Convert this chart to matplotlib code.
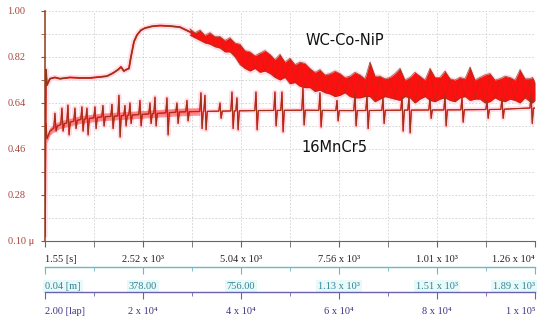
import numpy as np
import matplotlib
matplotlib.use("Agg")
import matplotlib.pyplot as plt

# tempo [s] e coeficiente de atrito - WC-Co-NiP (trecho suave)
wc_t = [0, 26, 51, 129, 257, 386, 643, 900, 1157, 1414, 1594, 1749, 1877, 1954,
        2031, 2109, 2160, 2211, 2289, 2366, 2469, 2571, 2751, 2957, 3214, 3471, 3729]
wc_mu = [0.12, 0.77, 0.71, 0.735, 0.74, 0.735, 0.74, 0.738, 0.738, 0.742, 0.745, 0.757,
         0.77, 0.781, 0.765, 0.772, 0.775, 0.82, 0.88, 0.906, 0.925, 0.933, 0.94, 0.943,
         0.941, 0.937, 0.918]

# WC-Co-NiP (trecho ruidoso): envelope superior e inferior
wcn_t = [3729, 3986, 4243, 4500, 4757, 5014, 5271, 5529, 5786, 6043, 6300, 6557, 6814,
         7071, 7329, 7586, 7843, 8100, 8357, 8614, 8871, 9129, 9386, 9643, 9900, 10157,
         10414, 10671, 10929, 11186, 11443, 11700, 11957, 12214, 12471, 12600]
wcn_hi = [0.93, 0.925, 0.915, 0.90, 0.895, 0.87, 0.84, 0.835, 0.83, 0.83, 0.815, 0.80,
          0.775, 0.77, 0.755, 0.755, 0.745, 0.75, 0.80, 0.745, 0.74, 0.775, 0.74, 0.745,
          0.775, 0.74, 0.735, 0.74, 0.78, 0.74, 0.755, 0.735, 0.74, 0.77, 0.735, 0.72]
wcn_lo = [0.905, 0.885, 0.87, 0.855, 0.84, 0.79, 0.765, 0.76, 0.755, 0.73, 0.715, 0.705,
          0.70, 0.69, 0.675, 0.67, 0.665, 0.66, 0.665, 0.655, 0.66, 0.65, 0.66, 0.655,
          0.65, 0.655, 0.65, 0.66, 0.65, 0.655, 0.645, 0.65, 0.655, 0.64, 0.645, 0.65]
# pontos intermediários do mesmo envelope
wcm_t = [3857, 4114, 4371, 4629, 4886, 5143, 5400, 5657, 5914, 6171, 6429, 6686, 6943,
         7200, 7457, 7714, 7971, 8229, 8486, 8743, 9000, 9257, 9514, 9771, 10029, 10286,
         10543, 10800, 11057, 11314, 11571, 11829, 12086, 12343, 12536]
wcm_hi = [0.915, 0.905, 0.90, 0.885, 0.875, 0.845, 0.825, 0.845, 0.81, 0.80, 0.79, 0.795,
          0.76, 0.75, 0.765, 0.74, 0.76, 0.735, 0.745, 0.735, 0.755, 0.73, 0.76, 0.73,
          0.74, 0.765, 0.73, 0.735, 0.73, 0.75, 0.73, 0.745, 0.73, 0.735, 0.74]
wcm_lo = [0.895, 0.875, 0.86, 0.84, 0.82, 0.775, 0.775, 0.765, 0.74, 0.74, 0.72, 0.70,
          0.685, 0.68, 0.665, 0.68, 0.66, 0.665, 0.645, 0.665, 0.655, 0.665, 0.64, 0.665,
          0.645, 0.66, 0.645, 0.665, 0.655, 0.64, 0.66, 0.645, 0.65, 0.66, 0.64]

# 16MnCr5: linha de base
mn_t = [26, 51, 129, 257, 386, 643, 900, 1157, 1414, 1929, 2443, 2957, 3471, 3986,
        5271, 6557, 7843, 9129, 10414, 11700, 12400, 12600]
mn_mu = [0.56, 0.50, 0.53, 0.545, 0.555, 0.565, 0.575, 0.58, 0.585, 0.59, 0.595, 0.60,
         0.605, 0.607, 0.61, 0.612, 0.61, 0.612, 0.613, 0.615, 0.62, 0.62]

# 16MnCr5: picos (tempo, máximo, mínimo)
spk_t = [257, 437, 591, 771, 951, 1080, 1286, 1491, 1723, 1903, 2057, 2186, 2443, 2700,
         2829, 3137, 3394, 3651, 4011, 4114, 4500, 4809, 4937, 5426, 5914, 6094, 6634,
         7071, 7509, 7971, 8280, 8691, 9180, 9360, 9900, 10286, 10723, 11366, 11751, 12500]
spk_hi = [0.60, 0.62, 0.632, 0.62, 0.625, 0.62, 0.625, 0.63, 0.635, 0.67, 0.63, 0.64,
          0.65, 0.64, 0.663, 0.66, 0.64, 0.65, 0.68, 0.67, 0.64, 0.683, 0.66, 0.683,
          0.683, 0.683, 0.70, 0.68, 0.65, 0.68, 0.67, 0.66, 0.67, 0.665, 0.66, 0.67,
          0.66, 0.65, 0.66, 0.68]
spk_lo = [0.53, 0.53, 0.515, 0.54, 0.53, 0.515, 0.54, 0.55, 0.54, 0.507, 0.55, 0.56,
          0.55, 0.56, 0.55, 0.515, 0.56, 0.57, 0.54, 0.535, 0.58, 0.54, 0.535, 0.535,
          0.55, 0.527, 0.554, 0.546, 0.57, 0.55, 0.54, 0.56, 0.53, 0.523, 0.58, 0.55,
          0.565, 0.58, 0.58, 0.56]

# eixos
x_major = [1.55, 2520, 5040, 7560, 10080, 12600]
x_minor = [1260, 3780, 6300, 8820, 11340]
lbl_time = ["1.55 [s]", "2.52 x 10³", "5.04 x 10³", "7.56 x 10³", "1.01 x 10³", "1.26 x 10⁴"]
lbl_dist = ["0.04 [m]", "378.00", "756.00", "1.13 x 10³", "1.51 x 10³", "1.89 x 10³"]
lbl_lap = ["2.00 [lap]", "2 x 10⁴", "4 x 10⁴", "6 x 10⁴", "8 x 10⁴", "1 x 10⁵"]
y_major = [0.10, 0.28, 0.46, 0.64, 0.82, 1.00]
y_minor = [0.19, 0.37, 0.55, 0.73, 0.91]
y_labels = ["0.10 μ", "0.28", "0.46", "0.64", "0.82", "1.00"]

SERIF = ["Liberation Serif", "DejaVu Serif"]
RED = "#ff1010"
BROWN = "#8a3b1c"
PINK = "#ffdde7"

fig = plt.figure(figsize=(5.5, 3.23), dpi=100)
L, W = 45 / 550, 490 / 550
ax = fig.add_axes([L, 1 - 241 / 323, W, 230 / 323])

# WC-Co-NiP
order = np.argsort(wcn_t + wcm_t)
bt = np.array(wcn_t + wcm_t)[order]
bhi = np.array(wcn_hi + wcm_hi)[order]
blo = np.array(wcn_lo + wcm_lo)[order]
ax.plot(wc_t, wc_mu, color=PINK, lw=4, solid_capstyle="round", zorder=1)
ax.fill_between(bt, blo - 0.01, bhi + 0.01, color=PINK, lw=0, zorder=1)
ax.plot(wc_t, wc_mu, color=RED, lw=1.3, zorder=3)
ax.plot(wc_t, wc_mu, color=BROWN, lw=0.9, zorder=4)
ax.fill_between(bt, blo, bhi, color=RED, lw=0, zorder=3)
ax.plot(bt, bhi, color=BROWN, lw=0.6, alpha=0.75, zorder=4)
ax.plot(bt, blo, color=BROWN, lw=0.6, alpha=0.75, zorder=4)
# traço que oscila entre os envelopes
zig = np.where(np.arange(len(bt)) % 2 == 0, bhi, blo)
ax.plot(bt, zig, color=BROWN, lw=0.5, alpha=0.45, zorder=4)

# 16MnCr5: base + picos
pts = [(t, v) for t, v in zip(mn_t, mn_mu)
       if all(abs(t - s) > 60 for s in spk_t)]
for s, hi, lo in zip(spk_t, spk_hi, spk_lo):
    b0 = np.interp(s - 30, mn_t, mn_mu)
    b1 = np.interp(s + 60, mn_t, mn_mu)
    pts += [(s - 30, b0), (s, hi), (s + 30, lo), (s + 60, b1)]
pts.sort()
mt = [p[0] for p in pts]
mv = [p[1] for p in pts]
ax.plot(mt, mv, color=PINK, lw=3.5, zorder=1)
early = np.array(mn_t) < 4000
ax.fill_between(np.array(mn_t)[early], np.array(mn_mu)[early] - 0.015,
                np.array(mn_mu)[early] + 0.015, color=RED, alpha=0.45, lw=0, zorder=2)
ax.plot(mt, mv, color=RED, lw=0.9, zorder=3)
ax.plot(mt, mv, color=BROWN, lw=0.6, zorder=4)

ax.text(7714, 0.883, "WC-Co-NiP", fontsize=10.5, ha="center", va="center",
        family="DejaVu Sans", color="#111111")
ax.text(7431, 0.464, "16MnCr5", fontsize=10.5, ha="center", va="center",
        family="DejaVu Sans", color="#111111")

ax.set_xlim(1.55, 12600)
ax.set_ylim(0.10, 1.00)
ax.set_yticks(y_major)
ax.set_yticks(y_minor, minor=True)
ylabs = ax.set_yticklabels(y_labels, family=SERIF, fontsize=7.5, color="#a8463a")
for t in ylabs:
    t.set_ha("left")
ax.set_xticks(x_major)
ax.set_xticks(x_minor, minor=True)
labs = ax.set_xticklabels(lbl_time, family=SERIF, fontsize=7.5, color="#222222")
labs[0].set_ha("left")
labs[-1].set_ha("right")
ax.grid(True, which="both", color="#cfcfcf", lw=0.6, ls=(0, (2, 2)))
ax.set_axisbelow(True)
for s in ["top", "right"]:
    ax.spines[s].set_visible(False)
ax.spines["left"].set_color("#9b4a2c")
ax.spines["left"].set_linewidth(1.2)
ax.spines["bottom"].set_color("#666666")
ax.tick_params(axis="y", which="both", length=3, color="#9b4a2c", pad=24)
ax.tick_params(axis="x", which="both", length=4, color="#666666", pad=6)

# eixos secundários: distância e voltas
rows = [(267, lbl_dist, "#6cb8c0", "#2f8496"), (292, lbl_lap, "#6a62b0", "#3d3484")]
for ypix, lbls, lc, tc in rows:
    a2 = fig.add_axes([L, 1 - ypix / 323, W, 0.0001])
    a2.set_xlim(1.55, 12600)
    a2.set_yticks([])
    for s in ["top", "right", "left"]:
        a2.spines[s].set_visible(False)
    a2.spines["bottom"].set_color(lc)
    a2.spines["bottom"].set_linewidth(1.0)
    a2.patch.set_visible(False)
    a2.set_xticks(x_major)
    a2.set_xticks(x_minor, minor=True)
    labs = a2.set_xticklabels(lbls, family=SERIF, fontsize=7.5, color=tc)
    labs[0].set_ha("left")
    labs[-1].set_ha("right")
    if ypix == 267:
        for t in labs:
            t.set_bbox(dict(facecolor="#e8f9f9", edgecolor="none", pad=1.5))
    a2.tick_params(axis="x", which="major", length=5, color=lc, pad=6)
    a2.tick_params(axis="x", which="minor", length=3, color=lc)

fig.savefig("out.png", dpi=100)
